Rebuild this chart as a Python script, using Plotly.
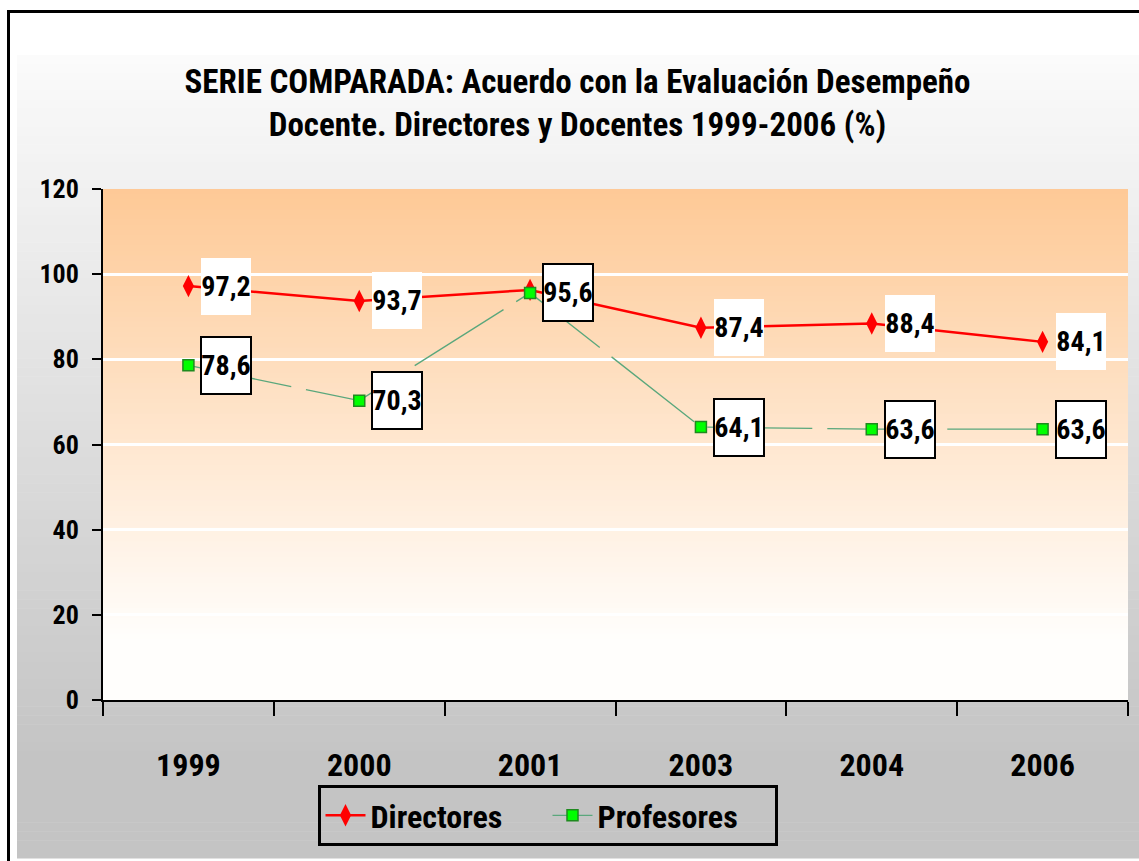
import plotly.graph_objects as go

# ---------------- data ----------------
years = ["1999", "2000", "2001", "2003", "2004", "2006"]
directores = [97.2, 93.7, 96.3, 87.4, 88.4, 84.1]
profesores = [78.6, 70.3, 95.6, 64.1, 63.6, 63.6]
# label shown for each Directores point (2001 label hidden behind the Profesores box in the original)
directores_show_label = [True, True, False, True, True, True]
y_ticks = [0, 20, 40, 60, 80, 100, 120]

title_text = ("SERIE COMPARADA: Acuerdo con la Evaluación Desempeño<br>"
              "Docente. Directores y Docentes 1999-2006 (%)")

FONT = "Liberation Sans Narrow, Arial Narrow, Roboto Condensed, Liberation Sans, Arial, sans-serif"

W, H = 1139, 861
L, R, T, B = 103, 11, 189, 161
PW, PH = W - L - R, H - T - B


def px_x(px):
    return (px - L) / PW


def px_y(py):
    return (H - B - py) / PH


def fmt(v):
    return f"{v:.1f}".replace(".", ",")


fig = go.Figure()

fig.add_trace(go.Scatter(
    x=years, y=directores, name="Directores", mode="lines+markers",
    line=dict(color="#ff0000", width=2.5),
    marker=dict(symbol="diamond-tall", size=16, color="#ff0000"),
))
fig.add_trace(go.Scatter(
    x=years, y=profesores, name="Profesores", mode="lines+markers",
    line=dict(color="#5aa77c", width=1.3, dash="105px,15px"),
    marker=dict(symbol="square", size=11, color="#00ff00",
                line=dict(color="#1f8a1f", width=1.5)),
))

shapes = []
# outer background gradient (white -> gray)
y_top, y_full, y_bot = 55, 760, 858
n = 90
for i in range(n):
    a = y_top + (y_bot - y_top) * i / n
    b = y_top + (y_bot - y_top) * (i + 1) / n
    mid = (a + b) / 2
    t = min(1.0, (mid - y_top) / (y_full - y_top))
    g = round(251 - (251 - 196) * t)
    shapes.append(dict(type="rect", xref="paper", yref="paper",
                       x0=px_x(17), x1=px_x(1145), y0=px_y(b + 0.5), y1=px_y(a),
                       fillcolor=f"rgb({g},{g},{g})", line=dict(width=0),
                       layer="below"))
# plot area gradient (peach -> white)
m = 100
top_c = (254, 201, 150)
end_c = (255, 254, 252)
for i in range(m):
    a = i / m
    b = (i + 1) / m
    mid = (a + b) / 2
    t = min(1.0, mid / 0.88)
    c = tuple(round(top_c[k] + (end_c[k] - top_c[k]) * t) for k in range(3))
    shapes.append(dict(type="rect", xref="x domain", yref="y domain",
                       x0=0, x1=1, y0=1 - b - 0.002, y1=1 - a,
                       fillcolor=f"rgb{c}", line=dict(width=0), layer="below"))
# outer frame
shapes.append(dict(type="rect", xref="paper", yref="paper",
                   x0=px_x(8.5), x1=px_x(1160), y0=px_y(880), y1=px_y(11.5),
                   line=dict(color="black", width=3), fillcolor="rgba(0,0,0,0)",
                   layer="above"))

annotations = []
for i, (v, show) in enumerate(zip(directores, directores_show_label)):
    if not show:
        continue
    annotations.append(dict(
        x=i, y=v, xref="x", yref="y", text=fmt(v), showarrow=False,
        xanchor="left", yanchor="middle", xshift=13,
        width=50, height=57, bgcolor="white", borderwidth=0, borderpad=0,
        font=dict(family=FONT, size=28, color="black", weight="bold"),
    ))
for i, v in enumerate(profesores):
    annotations.append(dict(
        x=i, y=v, xref="x", yref="y", text=fmt(v), showarrow=False,
        xanchor="left", yanchor="middle", xshift=12,
        width=48, height=55, bgcolor="white", bordercolor="black",
        borderwidth=2, borderpad=0,
        font=dict(family=FONT, size=28, color="black", weight="bold"),
    ))

fig.update_layout(
    width=W, height=H, autosize=False,
    margin=dict(l=L, r=R, t=T, b=B, pad=0),
    paper_bgcolor="white", plot_bgcolor="rgba(0,0,0,0)",
    title=dict(text=title_text, x=577.5 / W, xanchor="center", xref="container",
               y=1 - 93 / H, yanchor="middle", yref="container",
               font=dict(family=FONT, size=33, color="black", weight="bold")),
    shapes=shapes, annotations=annotations,
    showlegend=True,
    legend=dict(orientation="h", x=px_x(547.5), xanchor="center",
                y=px_y(785), yanchor="top", bgcolor="rgba(0,0,0,0)",
                bordercolor="black", borderwidth=3,
                font=dict(family=FONT, size=32, color="black", weight="bold"),
                entrywidth=172, itemwidth=40),
    xaxis=dict(type="category", categoryorder="array", categoryarray=years,
               range=[-0.5, len(years) - 0.5], autorange=False,
               tickson="boundaries", ticks="outside", ticklen=14, tickwidth=2,
               tickcolor="black", showline=True, linecolor="black", linewidth=2,
               showgrid=False, zeroline=False, ticklabelstandoff=36,
               tickfont=dict(family=FONT, size=32, color="black", weight="bold")),
    yaxis=dict(range=[0, 120], autorange=False, tickvals=y_ticks, ticks="outside",
               ticklen=9, tickwidth=2, tickcolor="black", showline=True,
               linecolor="black", linewidth=2, showgrid=True, gridcolor="white",
               gridwidth=2.5, zeroline=False, ticklabelstandoff=8,
               tickfont=dict(family=FONT, size=26, color="black", weight="bold")),
)

fig.write_html("out.html", config={"displayModeBar": False},
               post_script="document.body.style.margin='0';")
